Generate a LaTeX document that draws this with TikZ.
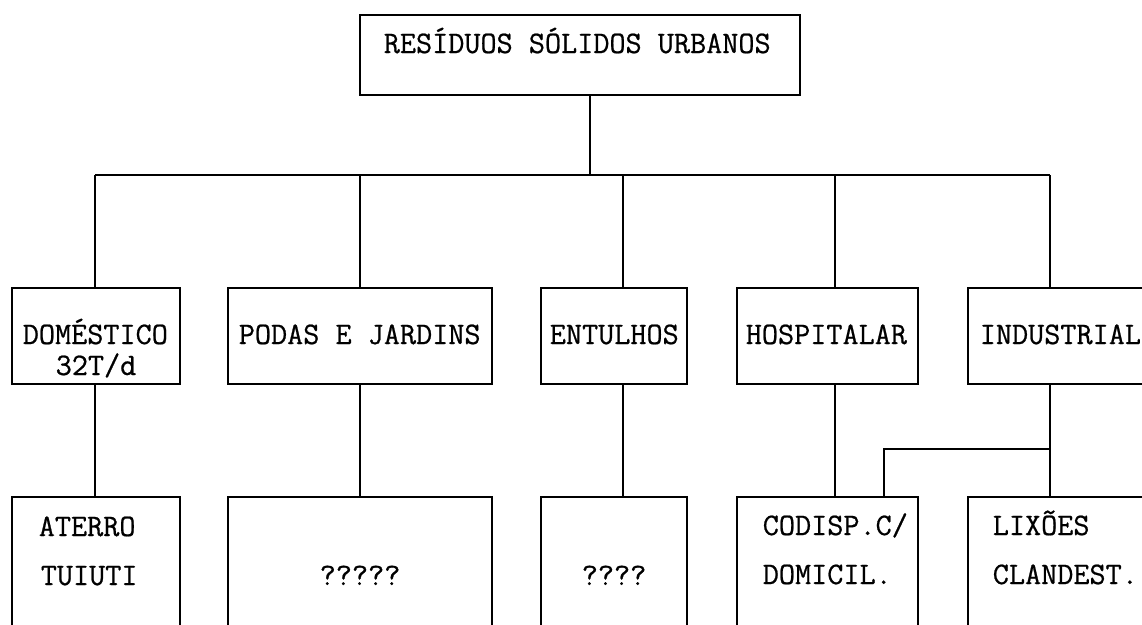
\documentclass[tikz,border=0pt]{standalone}
\usepackage{fontspec}
\newfontfamily\boxfont{Latin Modern Mono}[FakeBold=0.7]
\begin{document}
\begin{tikzpicture}[x=1pt,y=-1pt,
  line width=1.6pt,
  box/.style={draw, rectangle, inner sep=0pt, outer sep=0pt, anchor=north west},
  lbl/.style={font=\boxfont\fontsize{31.3}{36}\selectfont, inner sep=0pt},
]
\useasboundingbox (0,0) rectangle (1142,624);
\clip (0,0) rectangle (1142,624);

% boxes
\node[box, minimum width=440pt, minimum height=80pt]  (top) at (360,15)  {};
\node[box, minimum width=168pt, minimum height=96pt]  (dom) at (12,288)  {};
\node[box, minimum width=264pt, minimum height=96pt]  (pod) at (228,288) {};
\node[box, minimum width=146pt, minimum height=96pt]  (ent) at (541,288) {};
\node[box, minimum width=181pt, minimum height=96pt]  (hos) at (737,288) {};
\node[box, minimum width=220pt, minimum height=96pt]  (ind) at (968,288) {};
\node[box, minimum width=168pt, minimum height=180pt] (ate) at (12,497)  {};
\node[box, minimum width=264pt, minimum height=180pt] (qpo) at (228,497) {};
\node[box, minimum width=146pt, minimum height=180pt] (qen) at (541,497) {};
\node[box, minimum width=181pt, minimum height=180pt] (cod) at (737,497) {};
\node[box, minimum width=220pt, minimum height=180pt] (lix) at (968,497) {};

% labels
\node[lbl, anchor=base west] (tTop) at (383,53)  {RESÍDUOS SÓLIDOS URBANOS};
\node[lbl, anchor=base west] (tDom) at (22,344)  {DOMÉSTICO};
\node[lbl, anchor=base]      (tDomB) at (96,375) {32T/d};
\node[lbl, anchor=base west] (tPod) at (238,344) {PODAS E JARDINS};
\node[lbl, anchor=base west] (tEnt) at (549,344) {ENTULHOS};
\node[lbl, anchor=base west] (tHos) at (745,344) {HOSPITALAR};
\node[lbl, anchor=base west] (tInd) at (979,344) {INDUSTRIAL};
\node[lbl, anchor=base west] (tAte) at (38,536)  {ATERRO};
\node[lbl, anchor=base west] (tTui) at (40,585)  {TUIUTI};
\node[lbl, anchor=base]      (tQpo) at (360,585) {?????};
\node[lbl, anchor=base]      (tQen) at (614,585) {????};
\node[lbl, anchor=base west] (tCod) at (762,535) {CODISP.C/};
\node[lbl, anchor=base west] (tDmc) at (762,584) {DOMICIL.};
\node[lbl, anchor=base west] (tLix) at (992,535) {LIXÕES};
\node[lbl, anchor=base west] (tCla) at (992,584) {CLANDEST.};

% bus line
\coordinate (hub) at (590,175);
\coordinate (b1) at (95,175);
\coordinate (b2) at (360,175);
\coordinate (b3) at (623,175);
\coordinate (b4) at (835,175);
\coordinate (b5) at (1050,175);
\draw (top.south -| hub) -- (hub);
\draw (b1) -- (b5);
\foreach \b/\n in {b1/dom, b2/pod, b3/ent, b4/hos, b5/ind}
  \draw (\b) -- (\b |- \n.north);

% second level connectors
\draw (dom.south -| b1) -- (ate.north -| b1);
\draw (pod.south -| b2) -- (qpo.north -| b2);
\draw (ent.south -| b3) -- (qen.north -| b3);
\draw (hos.south -| b4) -- (cod.north -| b4);
\draw (ind.south -| b5) -- (lix.north -| b5);

% industrial branch to CODISP
\coordinate (br) at (1050,449);
\coordinate (bc) at (884,449);
\draw (br) -- (bc) -- (bc |- cod.north);
\end{tikzpicture}
\end{document}
